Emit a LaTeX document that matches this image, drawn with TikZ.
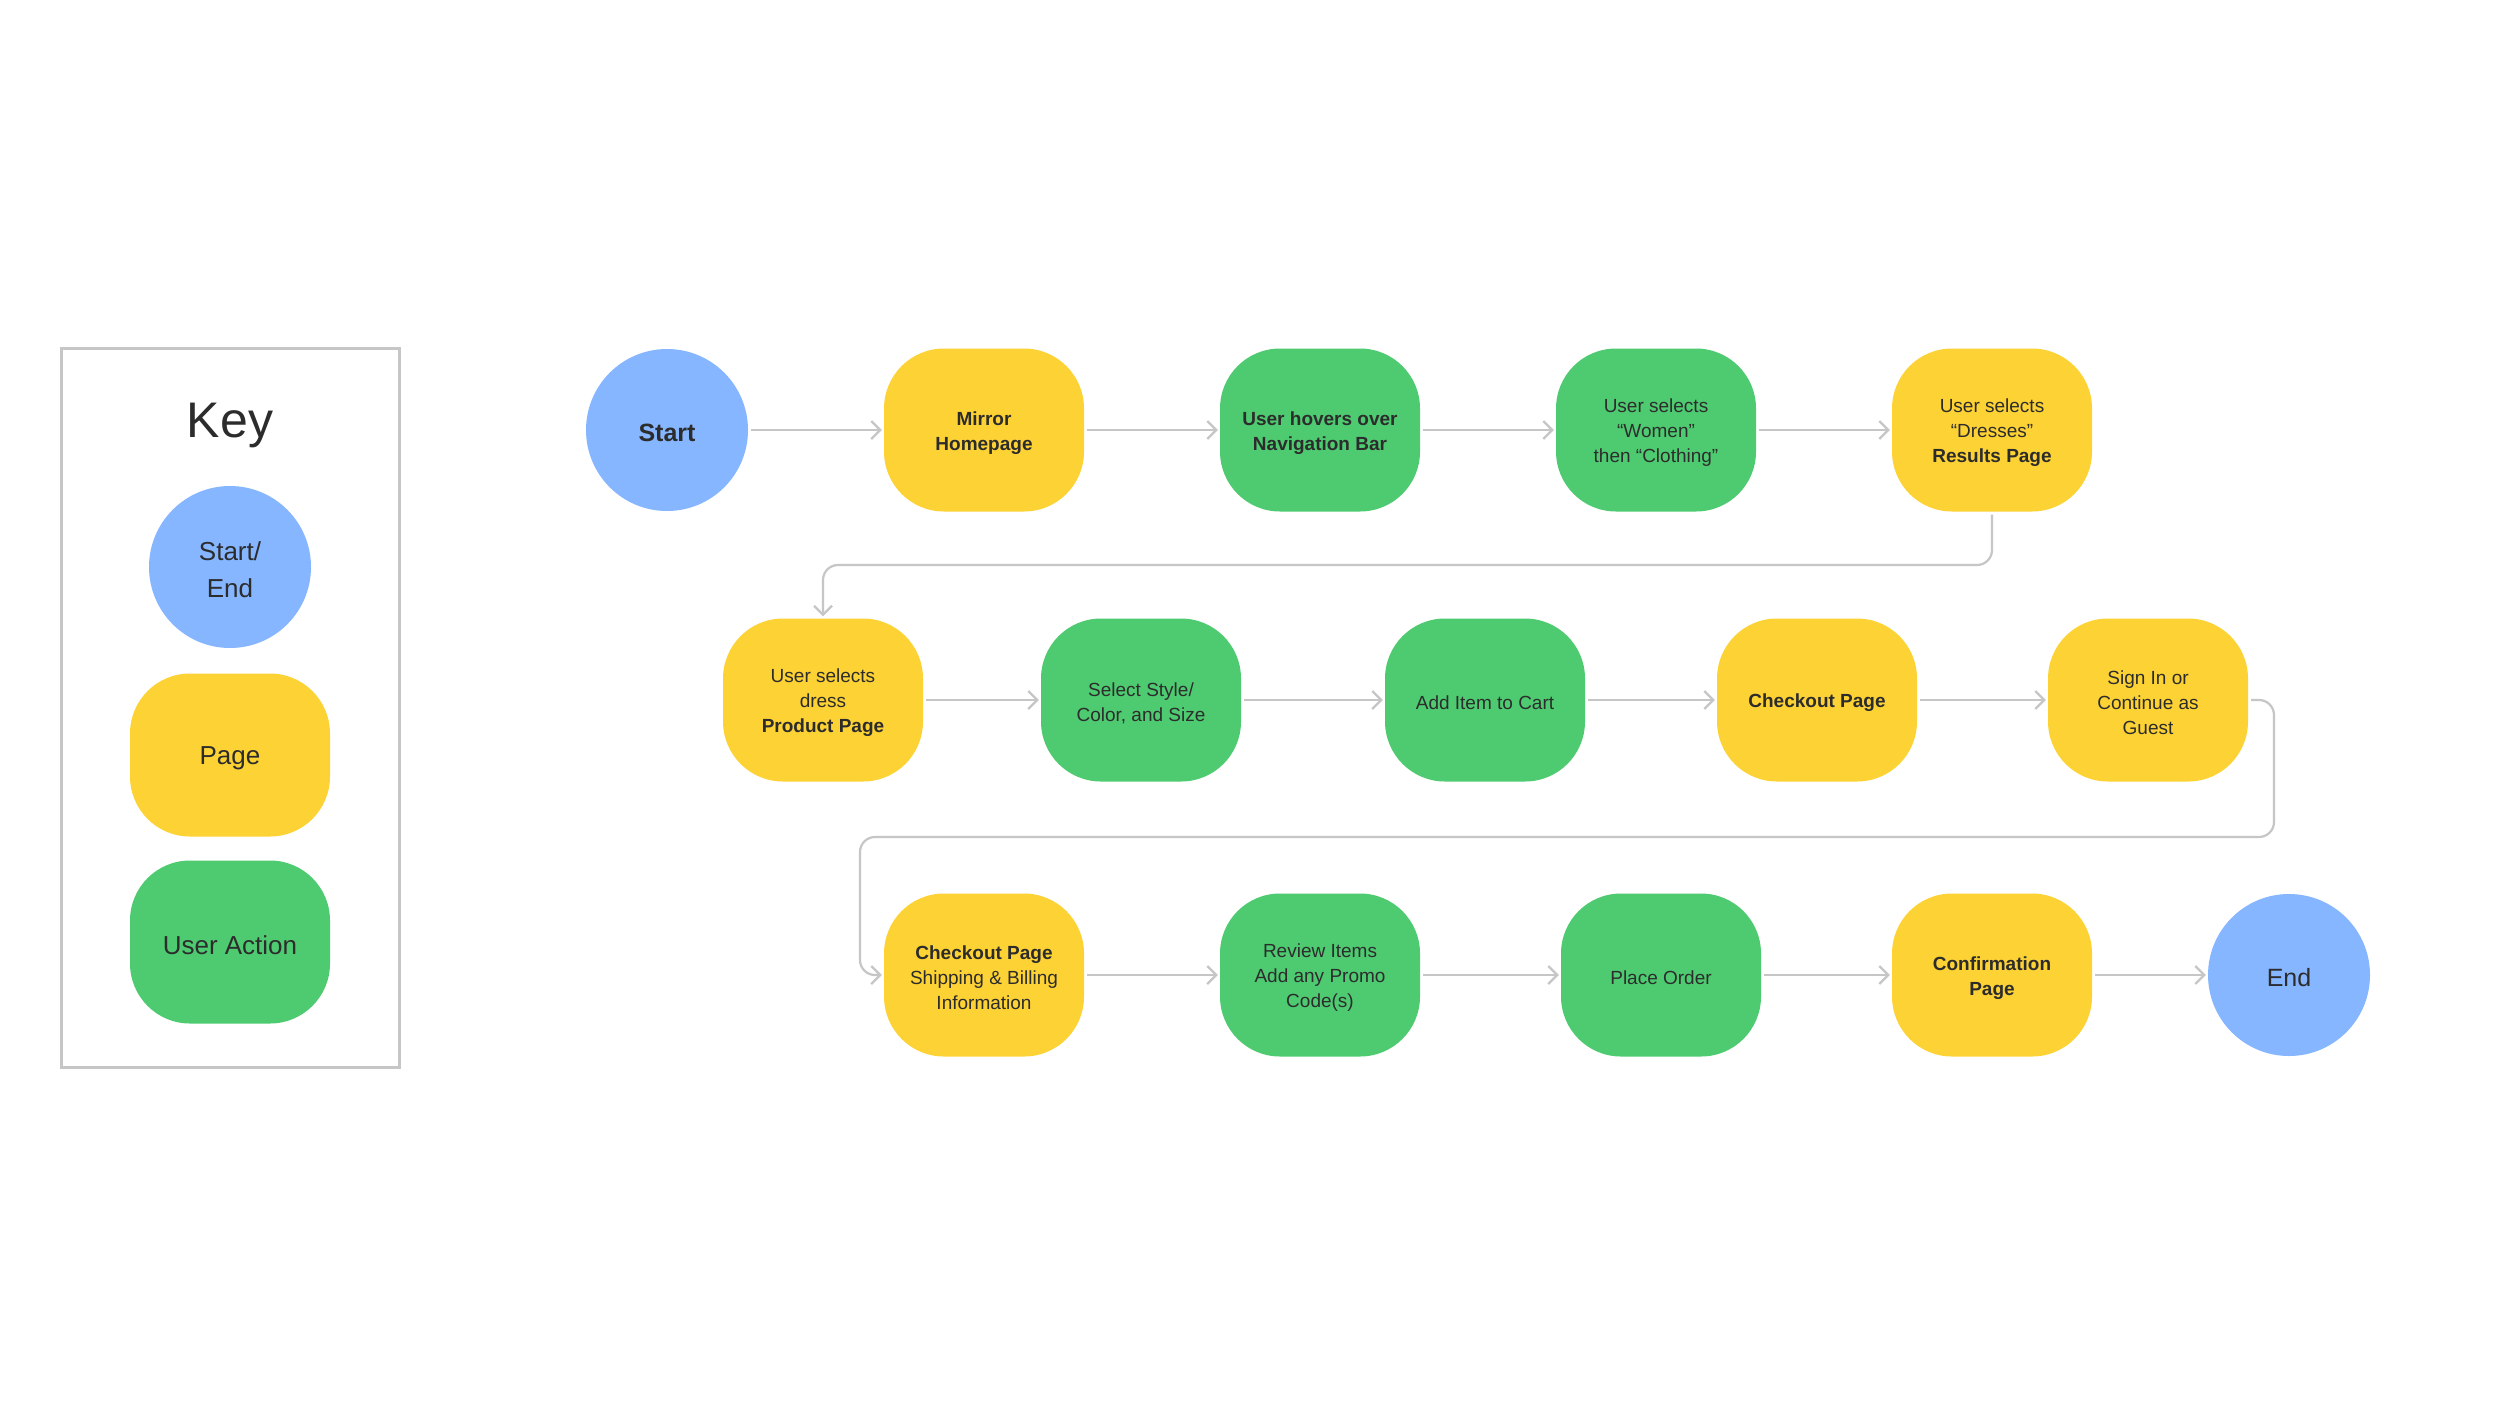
\documentclass[tikz,border=0pt]{standalone}
\usepackage{fontspec}
\setmainfont{Liberation Sans}
\usetikzlibrary{arrows.meta}
\definecolor{pageY}{HTML}{FDD235}
\definecolor{actG}{HTML}{4ECB71}
\definecolor{termB}{HTML}{85B6FF}
\definecolor{txt}{HTML}{2C2C2C}
\definecolor{lineG}{HTML}{C6C6C6}
\newcommand\lowr{\rule{0pt}{\dimexpr0.72em+6pt\relax}}
\begin{document}
\begin{tikzpicture}[x=1pt,y=-1pt,
  base/.style={align=center, text=txt, font=\fontsize{19}{25}\selectfont, inner sep=0pt},
  pagebox/.style={base, rectangle, rounded corners=60pt, minimum width=200pt, minimum height=163pt, fill=pageY},
  actbox/.style={pagebox, fill=actG},
  term/.style={base, circle, minimum size=162pt, fill=termB, font=\fontsize{25}{30}\selectfont},
  keylbl/.style={font=\fontsize{26}{37}\selectfont},
  conn/.style={draw=lineG, line width=2.2pt, -{Straight Barb[length=9pt,width=18pt]}, shorten <=3pt, shorten >=2pt, rounded corners=15pt}
]
\useasboundingbox (0,0) rectangle (2500,1406);
\fill[white] (0,0) rectangle (2500,1406);

% Key
\node[draw=lineG, line width=3pt, minimum width=338pt, minimum height=719pt, inner sep=0pt] (keybox) at (230,707.5) {};
\node[base, anchor=base, font=\fontsize{50}{60}\selectfont] (keytitle) at (230,437) {Key};
\node[term, keylbl] (keyterm) at (230,567) {\lowr Start/\\End};
\node[pagebox, keylbl] (keypage) at (230,755) {\lowr Page};
\node[actbox, keylbl] (keyact) at (230,942) {\lowr User Action};

% Row 1
\node[term] (start) at (667,430) {\lowr\textbf{Start}};
\node[pagebox] (home) at (984,430) {\lowr\textbf{Mirror}\\\textbf{Homepage}};
\node[actbox] (hover) at (1320,430) {\lowr\textbf{User hovers over}\\\textbf{Navigation Bar}};
\node[actbox] (women) at (1656,430) {\lowr User selects\\“Women”\\then “Clothing”};
\node[pagebox] (dresses) at (1992,430) {\lowr User selects\\“Dresses”\\\textbf{Results Page}};

% Row 2
\node[pagebox] (prod) at (823,700) {\lowr User selects\\dress\\\textbf{Product Page}};
\node[actbox] (style) at (1141,700) {\lowr Select Style/\\Color, and Size};
\node[actbox] (cart) at (1485,700) {\lowr Add Item to Cart};
\node[pagebox] (checkout) at (1817,700) {\lowr\textbf{Checkout Page}};
\node[pagebox] (signin) at (2148,700) {\lowr Sign In or\\Continue as\\Guest};

% Row 3
\node[pagebox] (ship) at (984,975) {\lowr\textbf{Checkout Page}\\Shipping \& Billing\\Information};
\node[actbox] (review) at (1320,975) {\lowr Review Items\\Add any Promo\\Code(s)};
\node[actbox] (order) at (1661,975) {\lowr Place Order};
\node[pagebox] (confirm) at (1992,975) {\lowr\textbf{Confirmation}\\\textbf{Page}};
\node[term] (endn) at (2289,975) {\lowr End};

% Connectors
\draw[conn] (start) -- (home);
\draw[conn] (home) -- (hover);
\draw[conn] (hover) -- (women);
\draw[conn] (women) -- (dresses);

\coordinate (b1) at (0,565);
\draw[conn] (dresses.south) -- (dresses.south |- b1) -- (prod.north |- b1) -- (prod.north);

\draw[conn] (prod) -- (style);
\draw[conn] (style) -- (cart);
\draw[conn] (cart) -- (checkout);
\draw[conn] (checkout) -- (signin);

\coordinate (b2) at (2274,837);
\coordinate (b3) at (860,837);
\draw[conn] (signin.east) -- (signin.east -| b2) -- (b2) -- (b3) -- (ship.west -| b3) -- (ship.west);

\draw[conn] (ship) -- (review);
\draw[conn] (review) -- (order);
\draw[conn] (order) -- (confirm);
\draw[conn] (confirm) -- (endn);
\end{tikzpicture}
\end{document}
